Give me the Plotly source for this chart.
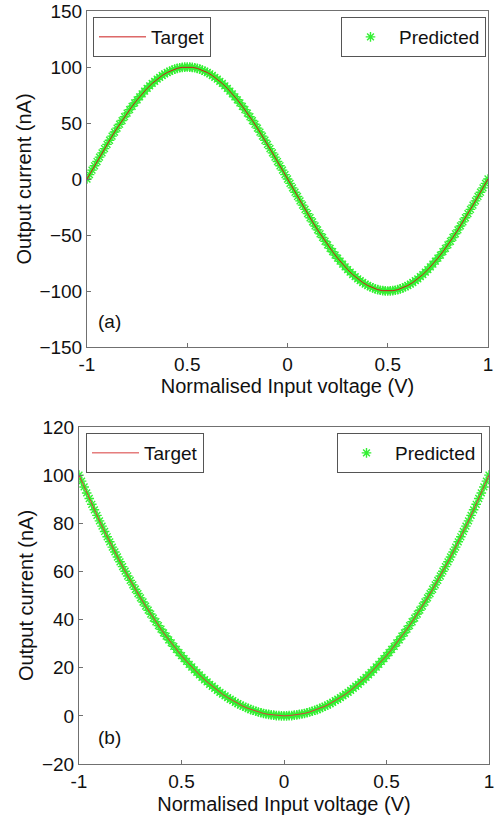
import plotly.graph_objects as go

# ---- data ----
# Target (red line) samples
x_target = [-1.0, -0.975, -0.95, -0.925, -0.9, -0.875, -0.85, -0.825, -0.8, -0.775,
            -0.75, -0.725, -0.7, -0.675, -0.65, -0.625, -0.6, -0.575, -0.55, -0.525,
            -0.5, -0.475, -0.45, -0.425, -0.4, -0.375, -0.35, -0.325, -0.3, -0.275,
            -0.25, -0.225, -0.2, -0.175, -0.15, -0.125, -0.1, -0.075, -0.05, -0.025,
            0.0, 0.025, 0.05, 0.075, 0.1, 0.125, 0.15, 0.175, 0.2, 0.225,
            0.25, 0.275, 0.3, 0.325, 0.35, 0.375, 0.4, 0.425, 0.45, 0.475,
            0.5, 0.525, 0.55, 0.575, 0.6, 0.625, 0.65, 0.675, 0.7, 0.725,
            0.75, 0.775, 0.8, 0.825, 0.85, 0.875, 0.9, 0.925, 0.95, 0.975, 1.0]

target_a = [0.0, 7.8, 15.6, 23.3, 30.9, 38.3, 45.4, 52.2, 58.8, 64.9,
            70.7, 76.0, 80.9, 85.3, 89.1, 92.4, 95.1, 97.2, 98.8, 99.7,
            100.0, 99.7, 98.8, 97.2, 95.1, 92.4, 89.1, 85.3, 80.9, 76.0,
            70.7, 64.9, 58.8, 52.2, 45.4, 38.3, 30.9, 23.3, 15.6, 7.8,
            0.0, -7.8, -15.6, -23.3, -30.9, -38.3, -45.4, -52.2, -58.8, -64.9,
            -70.7, -76.0, -80.9, -85.3, -89.1, -92.4, -95.1, -97.2, -98.8, -99.7,
            -100.0, -99.7, -98.8, -97.2, -95.1, -92.4, -89.1, -85.3, -80.9, -76.0,
            -70.7, -64.9, -58.8, -52.2, -45.4, -38.3, -30.9, -23.3, -15.6, -7.8, 0.0]

target_b = [100.0, 95.1, 90.3, 85.6, 81.0, 76.6, 72.3, 68.1, 64.0, 60.1,
            56.3, 52.6, 49.0, 45.6, 42.3, 39.1, 36.0, 33.1, 30.3, 27.6,
            25.0, 22.6, 20.3, 18.1, 16.0, 14.1, 12.3, 10.6, 9.0, 7.6,
            6.3, 5.1, 4.0, 3.1, 2.3, 1.6, 1.0, 0.6, 0.3, 0.1,
            0.0, 0.1, 0.3, 0.6, 1.0, 1.6, 2.3, 3.1, 4.0, 5.1,
            6.3, 7.6, 9.0, 10.6, 12.3, 14.1, 16.0, 18.1, 20.3, 22.6,
            25.0, 27.6, 30.3, 33.1, 36.0, 39.1, 42.3, 45.6, 49.0, 52.6,
            56.3, 60.1, 64.0, 68.1, 72.3, 76.6, 81.0, 85.6, 90.3, 95.1, 100.0]

# Predicted (green asterisks) samples, denser
x_pred = [-1.0, -0.9875, -0.975, -0.9625, -0.95, -0.9375, -0.925, -0.9125, -0.9, -0.8875,
          -0.875, -0.8625, -0.85, -0.8375, -0.825, -0.8125, -0.8, -0.7875, -0.775, -0.7625,
          -0.75, -0.7375, -0.725, -0.7125, -0.7, -0.6875, -0.675, -0.6625, -0.65, -0.6375,
          -0.625, -0.6125, -0.6, -0.5875, -0.575, -0.5625, -0.55, -0.5375, -0.525, -0.5125,
          -0.5, -0.4875, -0.475, -0.4625, -0.45, -0.4375, -0.425, -0.4125, -0.4, -0.3875,
          -0.375, -0.3625, -0.35, -0.3375, -0.325, -0.3125, -0.3, -0.2875, -0.275, -0.2625,
          -0.25, -0.2375, -0.225, -0.2125, -0.2, -0.1875, -0.175, -0.1625, -0.15, -0.1375,
          -0.125, -0.1125, -0.1, -0.0875, -0.075, -0.0625, -0.05, -0.0375, -0.025, -0.0125,
          0.0, 0.0125, 0.025, 0.0375, 0.05, 0.0625, 0.075, 0.0875, 0.1, 0.1125,
          0.125, 0.1375, 0.15, 0.1625, 0.175, 0.1875, 0.2, 0.2125, 0.225, 0.2375,
          0.25, 0.2625, 0.275, 0.2875, 0.3, 0.3125, 0.325, 0.3375, 0.35, 0.3625,
          0.375, 0.3875, 0.4, 0.4125, 0.425, 0.4375, 0.45, 0.4625, 0.475, 0.4875,
          0.5, 0.5125, 0.525, 0.5375, 0.55, 0.5625, 0.575, 0.5875, 0.6, 0.6125,
          0.625, 0.6375, 0.65, 0.6625, 0.675, 0.6875, 0.7, 0.7125, 0.725, 0.7375,
          0.75, 0.7625, 0.775, 0.7875, 0.8, 0.8125, 0.825, 0.8375, 0.85, 0.8625,
          0.875, 0.8875, 0.9, 0.9125, 0.925, 0.9375, 0.95, 0.9625, 0.975, 0.9875, 1.0]

predicted_a = [0.0, 3.9, 7.9, 11.8, 15.6, 19.5, 23.3, 27.1, 30.9, 34.6,
               38.3, 41.9, 45.4, 48.9, 52.2, 55.6, 58.8, 61.9, 64.9, 67.9,
               70.7, 73.4, 76.0, 78.5, 80.9, 83.1, 85.3, 87.2, 89.1, 90.8,
               92.4, 93.8, 95.1, 96.2, 97.2, 98.1, 98.8, 99.3, 99.7, 99.9,
               100.0, 99.9, 99.7, 99.3, 98.8, 98.1, 97.2, 96.2, 95.1, 93.8,
               92.4, 90.8, 89.1, 87.2, 85.3, 83.1, 80.9, 78.5, 76.0, 73.4,
               70.7, 67.9, 64.9, 61.9, 58.8, 55.6, 52.2, 48.9, 45.4, 41.9,
               38.3, 34.6, 30.9, 27.1, 23.3, 19.5, 15.6, 11.8, 7.9, 3.9,
               0.0, -3.9, -7.9, -11.8, -15.6, -19.5, -23.3, -27.1, -30.9, -34.6,
               -38.3, -41.9, -45.4, -48.9, -52.2, -55.6, -58.8, -61.9, -64.9, -67.9,
               -70.7, -73.4, -76.0, -78.5, -80.9, -83.1, -85.3, -87.2, -89.1, -90.8,
               -92.4, -93.8, -95.1, -96.2, -97.2, -98.1, -98.8, -99.3, -99.7, -99.9,
               -100.0, -99.9, -99.7, -99.3, -98.8, -98.1, -97.2, -96.2, -95.1, -93.8,
               -92.4, -90.8, -89.1, -87.2, -85.3, -83.1, -80.9, -78.5, -76.0, -73.4,
               -70.7, -67.9, -64.9, -61.9, -58.8, -55.6, -52.2, -48.9, -45.4, -41.9,
               -38.3, -34.6, -30.9, -27.1, -23.3, -19.5, -15.6, -11.8, -7.9, -3.9, 0.0]

predicted_b = [100.0, 97.5, 95.1, 92.6, 90.3, 87.9, 85.6, 83.3, 81.0, 78.8,
               76.6, 74.4, 72.3, 70.1, 68.1, 66.0, 64.0, 62.0, 60.1, 58.1,
               56.3, 54.4, 52.6, 50.8, 49.0, 47.3, 45.6, 43.9, 42.3, 40.6,
               39.1, 37.5, 36.0, 34.5, 33.1, 31.6, 30.3, 28.9, 27.6, 26.3,
               25.0, 23.8, 22.6, 21.4, 20.3, 19.1, 18.1, 17.0, 16.0, 15.0,
               14.1, 13.1, 12.3, 11.4, 10.6, 9.8, 9.0, 8.3, 7.6, 6.9,
               6.3, 5.6, 5.1, 4.5, 4.0, 3.5, 3.1, 2.6, 2.3, 1.9,
               1.6, 1.3, 1.0, 0.8, 0.6, 0.4, 0.3, 0.1, 0.1, 0.0,
               0.0, 0.0, 0.1, 0.1, 0.3, 0.4, 0.6, 0.8, 1.0, 1.3,
               1.6, 1.9, 2.3, 2.6, 3.1, 3.5, 4.0, 4.5, 5.1, 5.6,
               6.3, 6.9, 7.6, 8.3, 9.0, 9.8, 10.6, 11.4, 12.3, 13.1,
               14.1, 15.0, 16.0, 17.0, 18.1, 19.1, 20.3, 21.4, 22.6, 23.8,
               25.0, 26.3, 27.6, 28.9, 30.3, 31.6, 33.1, 34.5, 36.0, 37.5,
               39.1, 40.6, 42.3, 43.9, 45.6, 47.3, 49.0, 50.8, 52.6, 54.4,
               56.3, 58.1, 60.1, 62.0, 64.0, 66.0, 68.1, 70.1, 72.3, 74.4,
               76.6, 78.8, 81.0, 83.3, 85.6, 87.9, 90.3, 92.6, 95.1, 97.5, 100.0]

x_tickvals = [-1, -0.5, 0, 0.5, 1]
x_ticktext = ["-1", "0.5", "0", "0.5", "1"]
ya_tickvals = [-150, -100, -50, 0, 50, 100, 150]
yb_tickvals = [-20, 0, 20, 40, 60, 80, 100, 120]

FONT = "Liberation Sans, Arial, sans-serif"
FS = 19
W, H = 499, 824
green = "#33f033"

fig = go.Figure()

marker_style = dict(symbol="asterisk-open", size=8, color=green,
                    line=dict(color=green, width=1.4))

# (a)
fig.add_trace(go.Scatter(x=x_pred, y=predicted_a, mode="markers", name="Predicted",
                         marker=marker_style, xaxis="x", yaxis="y", legend="legend2"))
fig.add_trace(go.Scatter(x=x_target, y=target_a, mode="lines", name="Target",
                         line=dict(color="#cc1a1a", width=1),
                         xaxis="x", yaxis="y", legend="legend"))
# (b)
fig.add_trace(go.Scatter(x=x_pred, y=predicted_b, mode="markers", name="Predicted",
                         marker=marker_style, xaxis="x2", yaxis="y2", legend="legend4"))
fig.add_trace(go.Scatter(x=x_target, y=target_b, mode="lines", name="Target",
                         line=dict(color="#d83a3a", width=1),
                         xaxis="x2", yaxis="y2", legend="legend3"))

txt_font = dict(family=FONT, size=FS, color="#111")
title_font = dict(family=FONT, size=20, color="#111")
axis_common = dict(showline=True, mirror=True, linecolor="#707070", linewidth=1,
                   ticks="inside", ticklen=4, tickcolor="#707070", showgrid=False,
                   zeroline=False, tickfont=txt_font, title_font=title_font,
                   automargin=False, ticklabeloverflow="allow")


def px(v):
    return v / W


def py(v):
    return 1 - v / H


legend_common = dict(bordercolor="#555", borderwidth=1, bgcolor="white",
                     font=txt_font, yanchor="top", itemwidth=47)

fig.update_layout(
    width=W, height=H, margin=dict(l=0, r=0, t=0, b=0, autoexpand=False),
    paper_bgcolor="white", plot_bgcolor="white", showlegend=True,
    xaxis=dict(domain=[px(87), px(488)], range=[-1, 1], tickvals=x_tickvals,
               ticktext=x_ticktext, anchor="y",
               title=dict(text="Normalised Input voltage (V)", standoff=5),
               **axis_common),
    yaxis=dict(domain=[py(347), py(11)], range=[-150, 150], tickvals=ya_tickvals,
               anchor="x", title=dict(text="Output current (nA)", standoff=2),
               **axis_common),
    xaxis2=dict(domain=[px(79), px(489)], range=[-1, 1], tickvals=x_tickvals,
                ticktext=x_ticktext, anchor="y2",
                title=dict(text="Normalised Input voltage (V)", standoff=6),
                **axis_common),
    yaxis2=dict(domain=[py(764), py(427)], range=[-20, 120], tickvals=yb_tickvals,
                anchor="x2", title=dict(text="Output current (nA)", standoff=2),
                **axis_common),
    legend=dict(x=px(93), y=py(17), xanchor="left", **legend_common),
    legend2=dict(x=px(486), y=py(17), xanchor="right", **legend_common),
    legend3=dict(x=px(86), y=py(433), xanchor="left", **legend_common),
    legend4=dict(x=px(482), y=py(433), xanchor="right", **legend_common),
    annotations=[
        dict(text="(a)", x=px(96), y=py(322), xref="paper", yref="paper",
             xanchor="left", yanchor="middle", showarrow=False, font=txt_font),
        dict(text="(b)", x=px(96), y=py(737), xref="paper", yref="paper",
             xanchor="left", yanchor="middle", showarrow=False, font=txt_font),
    ],
)

fig.write_html("out.html")
